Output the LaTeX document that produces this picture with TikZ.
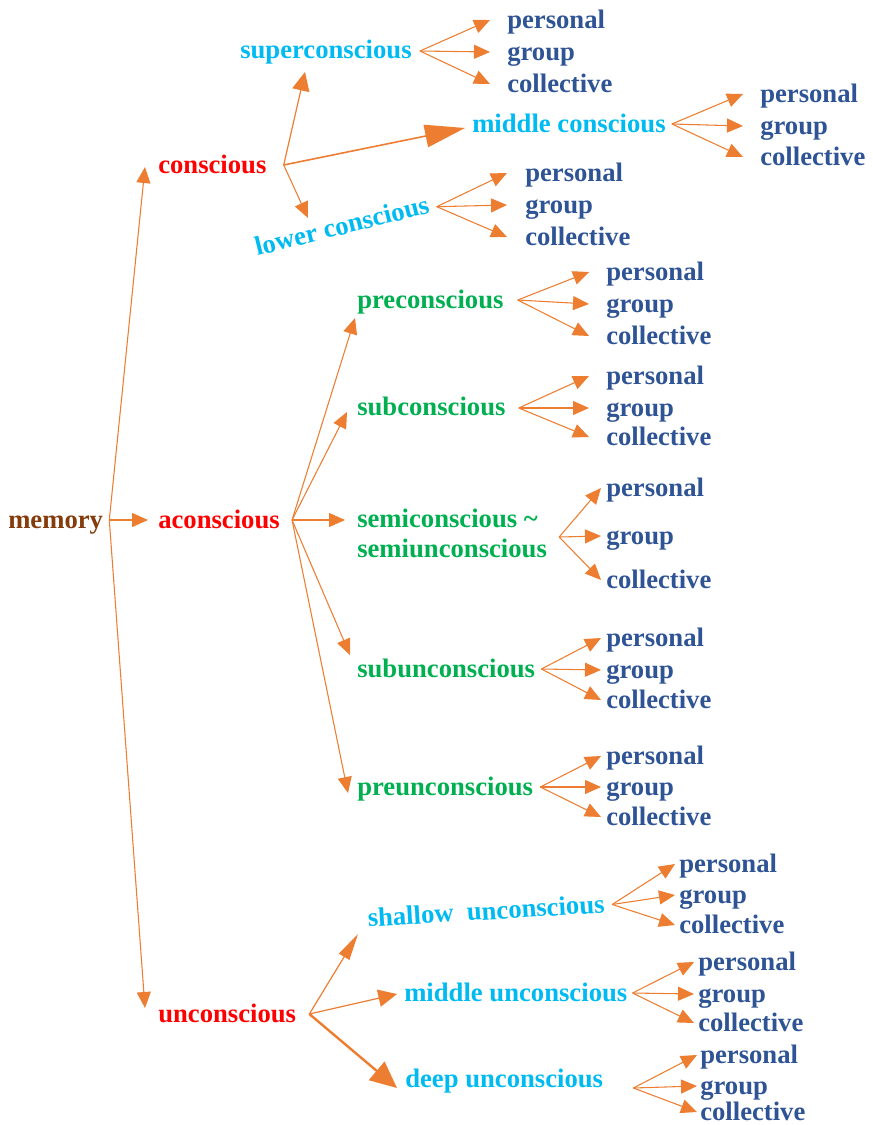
\documentclass[tikz,border=0pt]{standalone}
\usepackage{fontspec}
\setmainfont{Liberation Serif}
\usetikzlibrary{arrows.meta,calc}
\definecolor{arrowc}{RGB}{237,125,49}
\definecolor{rootc}{RGB}{132,60,12}
\definecolor{topc}{RGB}{255,0,0}
\definecolor{skyc}{RGB}{0,186,242}
\definecolor{grnc}{RGB}{0,176,80}
\definecolor{leafc}{RGB}{47,84,150}
\tikzset{
  br/.style={draw=arrowc,line width=0.8pt,-{Triangle[length=12pt,width=10.5pt]}},
  brmid/.style={draw=arrowc,line width=0.9pt,-{Triangle[length=14pt,width=13pt]}},
  brbig/.style={draw=arrowc,line width=1.8pt,-{Triangle[length=20pt,width=18pt]}},
  brlong/.style={draw=arrowc,line width=1.2pt,-{Triangle[length=30pt,width=17pt]}},
  brthin/.style={draw=arrowc,line width=0.9pt,-{Triangle[length=20pt,width=9pt]}},
}
\begin{document}
\begin{tikzpicture}[x=0.75pt,y=-0.75pt,
    every node/.style={inner sep=0pt,anchor=base west,font=\fontsize{20}{24}\selectfont\bfseries},
    root/.style={text=rootc}, top/.style={text=topc},
    sky/.style={text=skyc}, grn/.style={text=grnc}, leaf/.style={text=leafc}]
  \useasboundingbox (0,0) rectangle (873,1125);

  % first two levels
  \node[root] (mem) at (8,528) {memory};
  \node[top] (con) at (158,173) {conscious};
  \node[top] (acon) at (158,528) {aconscious};
  \node[top] (uncon) at (158,1022) {unconscious};

  \node[sky] (sup) at (240,58) {superconscious};
  \node[sky] (mid) at (472,132) {middle conscious};
  \node[sky,rotate=14] (low) at (257,256) {lower conscious};

  \node[grn] (pre) at (357,308) {preconscious};
  \node[grn] (sub) at (357,415) {subconscious};
  \node[grn] (semi) at (357,527) {semiconscious \textasciitilde};
  \node[grn] (semi2) at (357,557) {semiunconscious};
  \node[grn] (subu) at (357,677) {subunconscious};
  \node[grn] (preu) at (357,795) {preunconscious};

  \node[sky,rotate=3.5] (sha) at (368,927) {shallow\ \ unconscious};
  \node[sky] (midu) at (404,1001) {middle unconscious};
  \node[sky] (deep) at (405,1087) {deep unconscious};

  % leaves
  \foreach \p/\x/\ya/\yb/\yc in {sup/507/28/60/92, mid/760/102/134/165,
      low/525/181/213/245, pre/606/280/312/344, sub/606/384/416/445,
      semi/606/496/544/588, subu/606/646/678/708, preu/606/764/795/825,
      sha/679/872/903/933, midu/698/970/1002/1031, deep/700/1063/1094/1120}{
    \node[leaf] (\p-a) at (\x,\ya) {personal};
    \node[leaf] (\p-b) at (\x,\yb) {group};
    \node[leaf] (\p-c) at (\x,\yc) {collective};
  }

  % fork points
  \coordinate (mem-o) at ($(mem.base east)+(6,-8)$);
  \coordinate (con-o) at ($(con.base east)+(17,-8)$);
  \coordinate (acon-o) at ($(acon.base east)+(12,-8)$);
  \coordinate (uncon-o) at ($(uncon.base east)+(13,-8)$);
  \coordinate (sup-o) at ($(sup.base east)+(8,-7)$);
  \coordinate (mid-o) at ($(mid.base east)+(6,-8)$);
  \coordinate (low-o) at ($(low.base east)+(6,-6)$);
  \coordinate (pre-o) at ($(pre.base east)+(14,-8)$);
  \coordinate (sub-o) at ($(sub.base east)+(13,-7)$);
  \coordinate (semi-o) at ($(semi2.base east)+(12,-20)$);
  \coordinate (subu-o) at ($(subu.base east)+(6,-8)$);
  \coordinate (preu-o) at ($(preu.base east)+(7,-8)$);
  \coordinate (sha-o) at ($(sha.base east)+(7,-8)$);
  \coordinate (midu-o) at ($(midu.base east)+(5,-8)$);
  \coordinate (deep-o) at ($(deep.base east)+(30,1)$);

  % memory
  \draw[br] (mem-o) -- ($(con.base west)+(-13,-6)$);
  \draw[br] (mem-o) -- ($(acon.base west)+(-10,-8)$);
  \draw[br] (mem-o) -- ($(uncon.base west)+(-13,-14)$);

  % conscious
  \draw[brmid] (con-o) -- ($(sup.base west)+(65,14)$);
  \draw[brlong] (con-o) -- ($(mid.base west)+(-7,-4)$);
  \draw[br] (con-o) -- ($(low.base west)+(51,-38)$);

  % aconscious
  \draw[br] (acon-o) -- ($(pre.base west)+(-2,10)$);
  \draw[br] (acon-o) -- ($(sub.base west)+(-10,-3)$);
  \draw[br] (acon-o) -- ($(semi.base west)+(-12,-7)$);
  \draw[br] (acon-o) -- ($(subu.base west)+(-7,-22)$);
  \draw[br] (acon-o) -- ($(preu.base west)+(-9,-2)$);

  % unconscious
  \draw[brthin] (uncon-o) -- ($(sha.base west)+(-10,7)$);
  \draw[brmid] (uncon-o) -- ($(midu.base west)+(-7,-7)$);
  \draw[brbig] (uncon-o) -- ($(deep.base west)+(-8,1)$);

  % fans to the leaves
  \foreach \p/\g in {sup/17,mid/17,low/18,pre/17,sub/17,semi/5,subu/5,
      preu/5,sha/4,midu/4,deep/3}
    \foreach \l in {a,b,c}
      \draw[br] (\p-o) -- ($(\p-\l.base west)+(-\g,-8)$);
\end{tikzpicture}
\end{document}
